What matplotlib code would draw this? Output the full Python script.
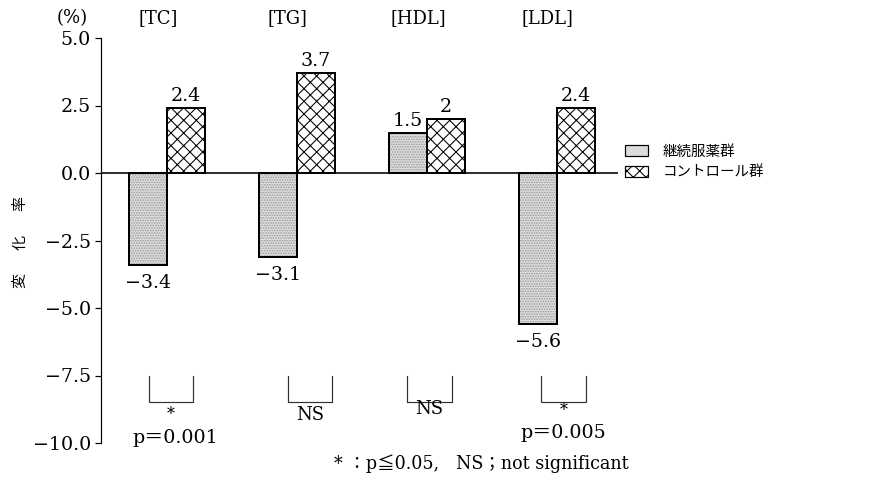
import matplotlib
matplotlib.use("Agg")
import matplotlib.pyplot as plt
from matplotlib.patches import Patch
import numpy as np

plt.rcParams['font.family'] = ['DejaVu Serif', 'Noto Sans CJK JP']

categories = ['[TC]', '[TG]', '[HDL]', '[LDL]']
treated = [-3.4, -3.1, 1.5, -5.6]      # 継続服薬群
control = [2.4, 3.7, 2.0, 2.4]         # コントロール群
treated_labels = ['\u22123.4', '\u22123.1', '1.5', '\u22125.6']
control_labels = ['2.4', '3.7', '2', '2.4']
series_names = ['継続服薬群', 'コントロール群']
sig_marks = ['*', 'NS', 'NS', '*']
p_labels = ['p＝0.001', '', '', 'p＝0.005']
yticks = [-10.0, -7.5, -5.0, -2.5, 0.0, 2.5, 5.0]
footnote = '* ：p≦0.05,   NS；not significant'

# dpi 76 so the 'xx' hatch comes out at ~12.7 px like the scan
W, H, DPI = 871, 493, 76
P = 72 / DPI   # points per pixel, sizes below are given in pixels

fig = plt.figure(figsize=(W / DPI, H / DPI), dpi=DPI)
ax = fig.add_axes([101 / W, 1 - 443 / H, (618 - 101) / W, (443 - 38) / H])

x = np.arange(len(categories))
w = 0.29
gray = '#dcdcdc'

# stippled gray bars: fill + dot hatch, then black outline
ax.bar(x - w / 2, treated, w, color=gray, edgecolor='#9a9a9a', hatch='.....', lw=0)
ax.bar(x - w / 2, treated, w, fill=False, edgecolor='black', lw=2 * P)
ax.bar(x + w / 2, control, w, color='white', edgecolor='black', hatch='xx', lw=2 * P)

for i in range(len(categories)):
    for xv, v, lab in [(x[i] - w / 2, treated[i], treated_labels[i]),
                       (x[i] + w / 2, control[i], control_labels[i])]:
        if v >= 0:
            ax.annotate(lab, (xv, v), xytext=(0, 3 * P), textcoords='offset points',
                        ha='center', va='bottom', fontsize=19 * P)
        else:
            ax.annotate(lab, (xv, v), xytext=(0, -9 * P), textcoords='offset points',
                        ha='center', va='top', fontsize=19 * P)

ax.axhline(0, color='black', lw=1.6 * P)

ax.set_xlim(-0.508, 3.47)
ax.set_ylim(-10, 5)
ax.set_yticks(yticks)
ax.set_yticklabels([f'{t:.1f}'.replace('-', '\u2212') for t in yticks], fontsize=19 * P)
ax.set_xticks([])
for s in ['top', 'right', 'bottom']:
    ax.spines[s].set_visible(False)
ax.spines['left'].set_linewidth(1.2 * P)
ax.tick_params(axis='y', direction='out', length=6 * P, width=1.2 * P, pad=4 * P)

# category headers
for i, c in enumerate(categories):
    ax.text(x[i] - 0.07, 5.74, c, ha='center', va='center', fontsize=18 * P, clip_on=False)

# significance brackets
b_off = [0.03, 0.10, 0.02, 0.05]
sig_y = [-8.95, -8.95, -8.75, -8.8]
p_off = [0.06, 0, 0, 0.05]
p_y = [-9.8, 0, 0, -9.62]
for i in range(len(categories)):
    c = x[i] + b_off[i]
    ax.plot([c - 0.17, c - 0.17, c + 0.17, c + 0.17], [-7.5, -8.48, -8.48, -7.5],
            color='#333333', lw=1.2 * P, clip_on=False)
    fs = 16 * P if sig_marks[i] == '*' else 18 * P
    ax.text(c, sig_y[i], sig_marks[i], ha='center', va='center', fontsize=fs)
    if p_labels[i]:
        ax.text(x[i] + p_off[i], p_y[i], p_labels[i], ha='center', va='center', fontsize=19 * P)

fig.text(72 / W, 1 - 18 / H, '(%)', ha='center', va='center', fontsize=18 * P)
for ch, py in zip('変化率', [280, 242, 204]):
    fig.text(20 / W, 1 - py / H, ch, rotation=90, ha='center', va='center', fontsize=15 * P)

handles = [Patch(facecolor=gray, edgecolor='black', lw=1.2 * P),
           Patch(facecolor='white', edgecolor='black', hatch='xx', lw=1.2 * P)]
fig.legend(handles, series_names, loc='center left', bbox_to_anchor=(619 / W, 1 - 162 / H),
           frameon=False, fontsize=14.5 * P, handlelength=1.6, handleheight=0.83,
           handletextpad=1.0, labelspacing=0.45, borderaxespad=0)

fig.text(481 / W, 1 - 464 / H, footnote, ha='center', va='center', fontsize=17.5 * P)

fig.savefig('out.png', dpi=DPI)
